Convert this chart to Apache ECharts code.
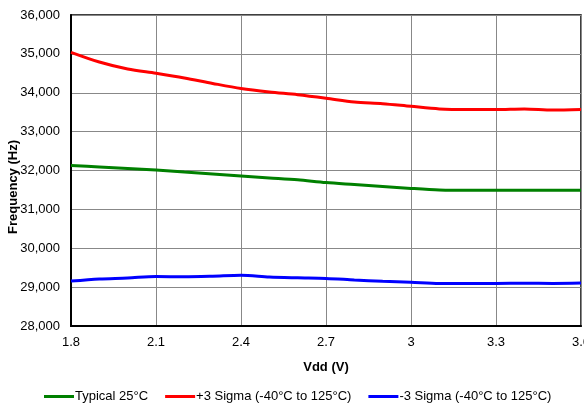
<!DOCTYPE html>
<html>
<head>
<meta charset="utf-8">
<script src="https://cdn.jsdelivr.net/npm/echarts@6/dist/echarts.min.js"></script>
<style>
html,body{margin:0;padding:0;background:#fff;}
#c{width:584px;height:405px;}
</style>
</head>
<body>
<div id="c"></div>
<script>
const vdd = [1.8,1.9,2.0,2.1,2.2,2.3,2.4,2.5,2.6,2.7,2.8,2.9,3.0,3.1,3.2,3.3,3.4,3.5,3.6];
const typical = [32130,32090,32050,32010,31960,31910,31860,31810,31760,31690,31640,31590,31540,31500,31490,31490,31490,31490,31490];
const plus3 = [35040,34790,34610,34500,34380,34240,34110,34020,33950,33860,33760,33720,33650,33585,33570,33570,33585,33555,33570];
const minus3 = [29155,29210,29235,29275,29265,29280,29305,29260,29240,29225,29185,29150,29125,29095,29095,29095,29100,29095,29105];
const seriesNames = ['Typical 25°C','+3 Sigma (-40°C to 125°C)','-3 Sigma (-40°C to 125°C)'];
const colors = ['#008000','#ff0000','#0000ff'];
const yTicks = {min:28000, max:36000, interval:1000};
const xTicks = {min:1.8, max:3.6, interval:0.3};

const chart = echarts.init(document.getElementById('c'), null, {renderer:'canvas'});
const font = 'Liberation Sans, Arial, sans-serif';
const allData = [typical, plus3, minus3];
chart.setOption({
  animation:false,
  backgroundColor:'#fff',
  textStyle:{fontFamily:font},
  grid:{left:71, right:3, top:15, bottom:79, show:true, borderColor:'#000', borderWidth:1.5, backgroundColor:'transparent', containLabel:false, outerBoundsMode:'none'},
  legend:{
    bottom:-3, left:39,
    data:seriesNames,
    icon:'rect', itemWidth:30, itemHeight:3, itemGap:17,
    textStyle:{fontFamily:font, fontSize:13, color:'#000', padding:[0,0,0,-4]}
  },
  graphic:[{
    type:'text', left:7, top:140, rotation:Math.PI/2, silent:true,
    style:{text:'Frequency (Hz)', font:'bold 13px '+font, fill:'#000'}
  }],
  xAxis:{
    type:'value', min:xTicks.min, max:xTicks.max, interval:xTicks.interval,
    name:'Vdd (V)', nameLocation:'middle', nameGap:35,
    nameTextStyle:{fontFamily:font, fontWeight:'bold', fontSize:13, color:'#000'},
    axisLine:{lineStyle:{color:'#000', width:2}},
    axisTick:{show:false},
    axisLabel:{fontFamily:font, fontSize:13, color:'#000', margin:10, formatter:v=>String(+(+v).toFixed(1))},
    splitLine:{show:true, lineStyle:{color:'#888', width:1}}
  },
  yAxis:{
    type:'value', min:yTicks.min, max:yTicks.max, interval:yTicks.interval,
    axisLine:{show:true, lineStyle:{color:'#000', width:2}},
    axisTick:{show:false},
    axisLabel:{fontFamily:font, fontSize:13, color:'#000', margin:11, formatter:v=>Number(v).toLocaleString('en-US')},
    splitLine:{show:true, lineStyle:{color:'#888', width:1}}
  },
  series: seriesNames.map((n,i)=>({
    name:n, type:'line', smooth:0.3, symbol:'none',
    data: vdd.map((x,j)=>[x, allData[i][j]]),
    lineStyle:{color:colors[i], width:3},
    itemStyle:{color:colors[i]}
  }))
});
</script>
</body>
</html>
